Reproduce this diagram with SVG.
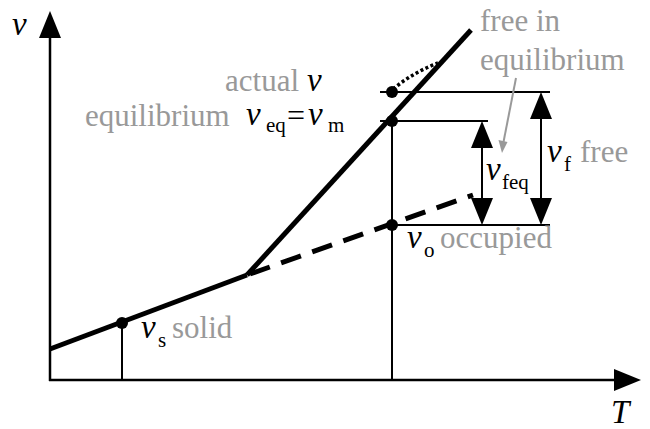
<svg xmlns="http://www.w3.org/2000/svg" width="650" height="429" viewBox="0 0 650 429">
<defs>
<polygon id="headUp" points="0,0 -11,27 11,27"/>
</defs>
<rect width="650" height="429" fill="#fff"/>
<g id="axes" stroke="#000" stroke-width="2.5" fill="none">
<line x1="50" y1="381" x2="50" y2="30"/>
<line x1="49" y1="380" x2="620" y2="380"/>
</g>
<g id="axis-heads" fill="#000">
<polygon points="50,11 39,38 61,38"/>
<polygon points="641,380 614,369 614,391"/>
</g>
<g id="axis-labels" font-family="Liberation Serif" font-style="italic" font-size="33" fill="#000">
<text x="12" y="35">v</text>
<text x="611" y="423">T</text>
</g>
<g id="connectors">
<g stroke="#000" stroke-width="5" fill="none">
<line x1="50" y1="349" x2="247" y2="275"/>
<line x1="247" y1="275" x2="471" y2="30"/>
<line x1="250" y1="274" x2="473" y2="195" stroke-dasharray="21 12"/>
</g>
<path d="M393,89 Q414,72 438,63" stroke="#000" stroke-width="3.5" fill="none" stroke-dasharray="3 2.5"/>
<g stroke="#000" stroke-width="2" fill="none">
<line x1="380" y1="92" x2="550" y2="92"/>
<line x1="380" y1="121" x2="488" y2="121"/>
<line x1="392" y1="225" x2="550" y2="225"/>
<line x1="392" y1="121" x2="392" y2="380"/>
<line x1="122" y1="323" x2="122" y2="380"/>
<line x1="482" y1="140" x2="482" y2="205"/>
<line x1="541" y1="110" x2="541" y2="205"/>
</g>
<g fill="#000">
<polygon points="482,121 471,148 493,148"/>
<polygon points="482,225 471,198 493,198"/>
<polygon points="541,92 530,119 552,119"/>
<polygon points="541,225 530,198 552,198"/>
</g>
<line x1="516" y1="78" x2="503.5" y2="142" stroke="#999" stroke-width="2"/>
<polygon points="502,153 498.5,140 507.5,142" fill="#999"/>
</g>
<g id="points" fill="#000">
<circle cx="392" cy="92" r="6"/>
<circle cx="392" cy="121" r="6"/>
<circle cx="392" cy="225" r="6"/>
<circle cx="122" cy="323" r="6"/>
</g>
<g id="label-free-eq" font-family="Liberation Serif" font-size="31" fill="#999">
<text x="480" y="31">free in</text>
<text x="480" y="70">equilibrium</text>
</g>
<g id="label-actual" font-family="Liberation Serif">
<text font-size="31" fill="#999" x="225" y="91">actual</text>
<text font-style="italic" font-size="33" x="307" y="91">v</text>
</g>
<g id="label-equilibrium" font-family="Liberation Serif">
<text font-size="31" fill="#999" x="85" y="126">equilibrium</text>
<text font-style="italic" font-size="33" x="246" y="125">v</text>
<text font-size="21" x="266" y="132">eq</text>
<text font-size="32" x="287" y="126">=</text>
<text font-style="italic" font-size="33" x="308" y="125">v</text>
<text font-size="21" x="328" y="132">m</text>
</g>
<g id="label-vfeq" font-family="Liberation Serif">
<text font-style="italic" font-size="33" x="486" y="180">v</text>
<text font-size="21" x="502" y="189">feq</text>
</g>
<g id="label-vf" font-family="Liberation Serif">
<text font-style="italic" font-size="33" x="547" y="162">v</text>
<text font-size="21" x="564" y="171">f</text>
<text font-size="31" fill="#999" x="580" y="162">free</text>
</g>
<g id="label-vo" font-family="Liberation Serif">
<text font-style="italic" font-size="33" x="407" y="248">v</text>
<text font-size="21" x="424" y="257">o</text>
<text font-size="31" fill="#999" x="440" y="248">occupied</text>
</g>
<g id="label-vs" font-family="Liberation Serif">
<text font-style="italic" font-size="33" x="141" y="338">v</text>
<text font-size="21" x="158" y="347">s</text>
<text font-size="31" fill="#999" x="172" y="338">solid</text>
</g>
</svg>
